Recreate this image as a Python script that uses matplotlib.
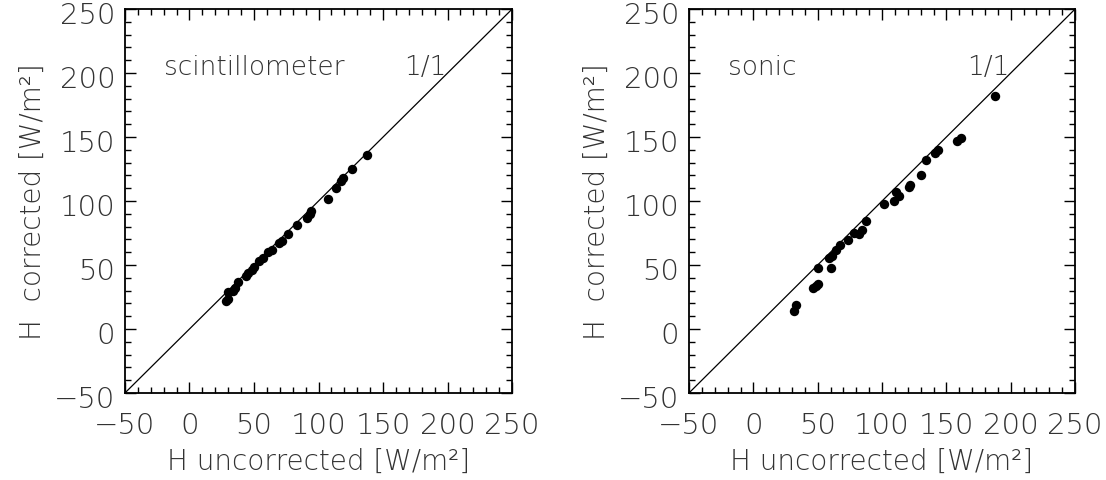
import numpy as np
import matplotlib.pyplot as plt
import matplotlib.transforms as mtransforms
from matplotlib.ticker import MultipleLocator

# DATOS
scint_unc = [137.8, 126.0, 118.7, 117.2, 113.3, 107.6, 94.2, 93.4, 91.3, 83.3,
             76.4, 71.4, 69.6, 63.7, 60.6, 56.7, 54.0, 50.2, 48.1, 45.5,
             43.5, 37.6, 35.3, 33.5, 29.6, 30.1, 28.0]
scint_cor = [136.0, 124.8, 117.7, 116.0, 110.0, 101.6, 92.4, 89.8, 87.0, 81.0,
             74.5, 69.0, 67.2, 62.0, 60.0, 55.2, 52.9, 48.7, 46.4, 43.8,
             41.7, 36.5, 31.8, 30.0, 28.7, 23.4, 21.6]

sonic_unc = [31.4, 33.5, 46.4, 48.4, 50.5, 50.2, 60.0, 58.5, 60.8, 63.9,
             67.6, 73.5, 77.9, 81.8, 84.6, 87.7, 101.8, 109.5, 111.0, 113.0,
             121.1, 121.6, 130.4, 134.5, 141.0, 143.8, 158.5, 161.4, 188.0]
sonic_cor = [14.3, 19.0, 31.8, 33.8, 35.4, 47.4, 47.4, 55.2, 57.3, 61.7,
             65.9, 69.5, 75.2, 74.2, 77.3, 84.6, 98.0, 100.0, 107.3, 103.9,
             111.2, 112.5, 120.3, 132.0, 137.2, 140.1, 146.6, 149.5, 182.3]

paneles = [("scintillometer", scint_unc, scint_cor),
           ("sonic", sonic_unc, sonic_cor)]
limites = [-50, 250]

plt.rcParams['font.family'] = ['DejaVu Sans']
plt.rcParams['font.weight'] = 'light'
plt.rcParams['axes.labelweight'] = 'light'
plt.rcParams['font.size'] = 20

gris = "#333333"
fig = plt.figure(figsize=(11.06, 4.81), dpi=100)
posiciones = [[0.113, 0.181, 0.350, 0.798], [0.623, 0.181, 0.349, 0.798]]

# pequeño desplazamiento hacia abajo de las etiquetas del eje y
desplazamiento = mtransforms.ScaledTranslation(0, -3 / 100, fig.dpi_scale_trans)

for (nombre, x, y), pos in zip(paneles, posiciones):
    ax = fig.add_axes(pos)
    ax.plot(limites, limites, color="black", lw=0.9)
    ax.scatter(x, y, s=46, color="black", zorder=3, linewidths=0)
    ax.set_xlim(limites)
    ax.set_ylim(limites)
    ax.xaxis.set_major_locator(MultipleLocator(50))
    ax.yaxis.set_major_locator(MultipleLocator(50))
    ax.xaxis.set_minor_locator(MultipleLocator(10))
    ax.yaxis.set_minor_locator(MultipleLocator(10))
    ax.tick_params(which="both", direction="in", top=True, right=True,
                   colors="black", labelcolor=gris, width=1, labelsize=21)
    ax.tick_params(which="major", length=8)
    ax.tick_params(which="minor", length=4)
    ax.tick_params(axis="x", which="major", pad=13)
    ax.tick_params(axis="y", which="major", pad=7)
    for etiqueta in ax.get_yticklabels():
        etiqueta.set_transform(etiqueta.get_transform() + desplazamiento)
    for s in ax.spines.values():
        s.set_linewidth(1.3)
    ax.text(-20, 205, nombre, fontsize=19, color=gris, va="center")
    ax.text(166, 205, "1/1", fontsize=19, color=gris, va="center")
    ax.set_xlabel("H uncorrected [W/m²]", color=gris, fontweight="light",
                  fontsize=20, labelpad=6)
    ax.set_ylabel("H  corrected [W/m²]", color=gris, fontweight="light",
                  fontsize=20, labelpad=5)

fig.savefig("out.png", dpi=100)
